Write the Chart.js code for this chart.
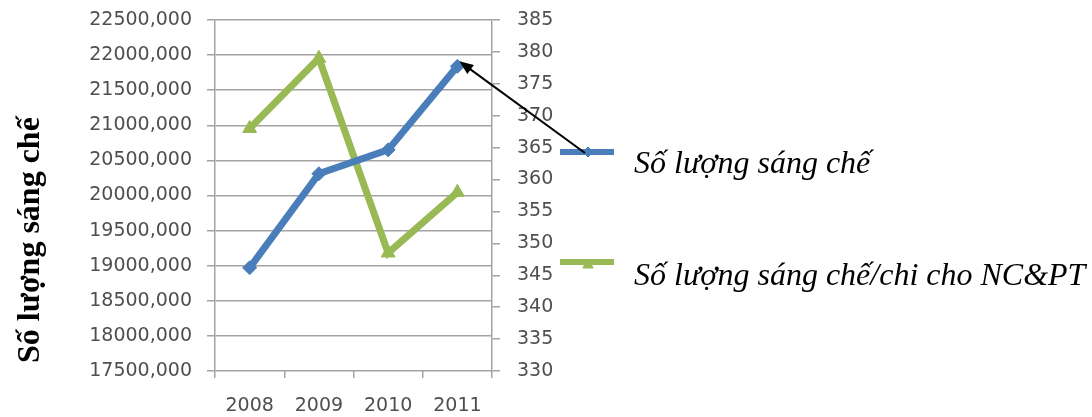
<!DOCTYPE html>
<html>
<head>
<meta charset="utf-8">
<script src="https://cdn.jsdelivr.net/npm/chart.js@4.4.1/dist/chart.umd.min.js"></script>
<style>
  html, body { margin: 0; padding: 0; background: #ffffff; }
  #wrap { position: relative; width: 1092px; height: 417px; }
</style>
</head>
<body>
<div id="wrap"><canvas id="c" width="1092" height="417"></canvas></div>
<script>
// ---- data ----
const categories = ['2008', '2009', '2010', '2011'];
const patentCount = [18970, 20310, 20650, 21840];          // left axis
const patentPerRnD = [368, 379, 348.5, 358];               // right axis
const seriesNames = ['Số lượng sáng chế', 'Số lượng sáng chế/chi cho NC&PT'];
const axisTitle = 'Số lượng sáng chế';
const leftTicks = { min: 17500, max: 22500, step: 500 };
const rightTicks = { min: 330, max: 385, step: 5 };

const BLUE = '#4A7EBB';
const GREEN = '#98B954';
const GRID = '#a3a3a3';
const TICK_FONT = { family: 'DejaVu Sans', size: 19 };
const TICK_COLOR = '#4f4f4f';

const overlay = {
  id: 'overlay',
  afterDraw(chart) {
    const ctx = chart.ctx;
    ctx.save();
    // axis title (rotated)
    ctx.translate(31, 363);
    ctx.rotate(-Math.PI / 2);
    ctx.font = 'bold 32px "Liberation Serif", "Times New Roman", serif';
    ctx.fillStyle = '#000';
    ctx.textAlign = 'left';
    ctx.textBaseline = 'middle';
    ctx.fillText(axisTitle, 0, 0);
    ctx.restore();

    // legend
    const entries = [
      { y: 152, textY: 173, ds: chart.data.datasets[0], style: 'rectRot', r: 5 },
      { y: 262, textY: 285, ds: chart.data.datasets[1], style: 'triangle', r: 6 }
    ];
    entries.forEach(e => {
      ctx.save();
      ctx.strokeStyle = e.ds.borderColor;
      ctx.lineWidth = 6;
      ctx.beginPath();
      ctx.moveTo(560, e.y);
      ctx.lineTo(614, e.y);
      ctx.stroke();
      ctx.fillStyle = e.ds.borderColor;
      ctx.strokeStyle = e.ds.borderColor;
      ctx.lineWidth = 1;
      Chart.helpers.drawPoint(ctx, { pointStyle: e.style, radius: e.r, borderWidth: 1, rotation: 0 }, 588, e.style === 'triangle' ? e.y + 3 : e.y);
      ctx.font = 'italic 32px "Liberation Serif", "Times New Roman", serif';
      ctx.fillStyle = '#000';
      ctx.textAlign = 'left';
      ctx.textBaseline = 'alphabetic';
      ctx.fillText(e.ds.label, 634, e.textY);
      ctx.restore();
    });

    // arrow from legend to last blue point
    const meta = chart.getDatasetMeta(0);
    const pt = meta.data[meta.data.length - 1];
    const x0 = 585, y0 = 153;
    const x1 = pt.x + 2, y1 = pt.y - 5;
    const ang = Math.atan2(y1 - y0, x1 - x0);
    const head = 15;
    ctx.save();
    ctx.strokeStyle = '#000';
    ctx.fillStyle = '#000';
    ctx.lineWidth = 2;
    ctx.beginPath();
    ctx.moveTo(x0, y0);
    ctx.lineTo(x1 - Math.cos(ang) * head * 0.8, y1 - Math.sin(ang) * head * 0.8);
    ctx.stroke();
    ctx.beginPath();
    ctx.moveTo(x1, y1);
    ctx.lineTo(x1 - head * Math.cos(ang - 0.38), y1 - head * Math.sin(ang - 0.38));
    ctx.lineTo(x1 - head * Math.cos(ang + 0.38), y1 - head * Math.sin(ang + 0.38));
    ctx.closePath();
    ctx.fill();
    ctx.restore();
  }
};

function fitVertical(width) {
  return function (s) { s.width = width; s.paddingTop = 0; s.paddingBottom = 0; };
}

new Chart(document.getElementById('c'), {
  type: 'line',
  data: {
    labels: categories,
    datasets: [
      {
        label: seriesNames[0], data: patentCount, yAxisID: 'y',
        borderColor: BLUE, backgroundColor: BLUE, borderWidth: 7,
        pointStyle: 'rectRot', pointRadius: 7, pointBorderWidth: 1,
        pointBackgroundColor: BLUE, pointBorderColor: BLUE, tension: 0
      },
      {
        label: seriesNames[1], data: patentPerRnD, yAxisID: 'y2',
        borderColor: GREEN, backgroundColor: GREEN, borderWidth: 7,
        pointStyle: 'triangle', pointRadius: 8, pointBorderWidth: 1,
        pointBackgroundColor: GREEN, pointBorderColor: GREEN, tension: 0
      }
    ]
  },
  options: {
    responsive: false,
    animation: false,
    layout: { padding: { left: 0, right: 540, top: 20, bottom: 0 } },
    plugins: { legend: { display: false }, tooltip: { enabled: false } },
    scales: {
      x: {
        offset: true,
        afterFit(s) { s.height = 46; },
        grid: { offset: true, drawOnChartArea: false, color: GRID, tickLength: 7, lineWidth: 1.5 },
        border: { display: false },
        ticks: { font: TICK_FONT, color: TICK_COLOR, padding: 17, maxRotation: 0 }
      },
      y: {
        position: 'left',
        min: leftTicks.min, max: leftTicks.max,
        afterFit: fitVertical(215),
        grid: { color: GRID, tickLength: 8, lineWidth: 1.5 },
        border: { display: true, color: GRID, width: 1.5 },
        ticks: {
          stepSize: leftTicks.step, font: TICK_FONT, color: TICK_COLOR, padding: 15,
          callback: v => v + ',000'
        }
      },
      y2: {
        position: 'right',
        min: rightTicks.min, max: rightTicks.max,
        afterFit: fitVertical(60),
        grid: { drawOnChartArea: false, color: GRID, tickLength: 8, lineWidth: 1.5 },
        border: { display: true, color: GRID, width: 1.5 },
        ticks: { stepSize: rightTicks.step, font: TICK_FONT, color: TICK_COLOR, padding: 17 }
      }
    }
  },
  plugins: [overlay]
});
</script>
</body>
</html>
